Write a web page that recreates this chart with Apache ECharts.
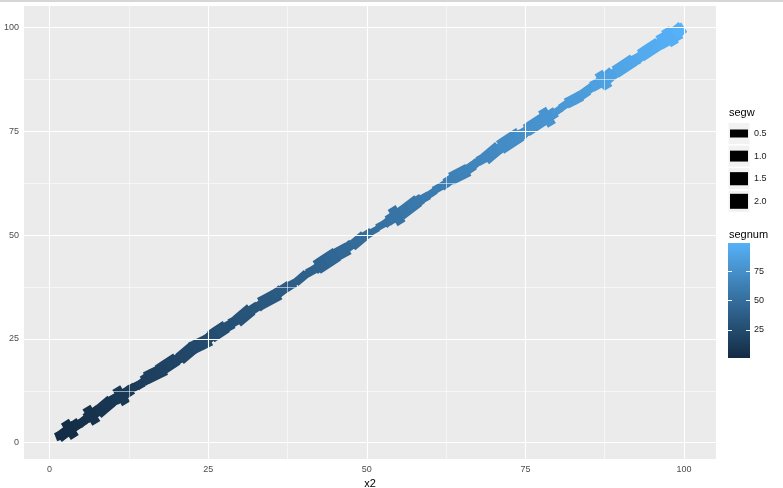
<!DOCTYPE html>
<html>
<head>
<meta charset="utf-8">
<script src="https://cdn.jsdelivr.net/npm/echarts@6/dist/echarts.min.js"></script>
<style>
  html, body { margin: 0; padding: 0; background: #fff; }
  #chart { width: 783px; height: 488px; }
</style>
</head>
<body>
<div id="chart"></div>
<script>
// path points, segment i goes from point i to point i+1
const xs = [
  1.6, 2.1, 3.3, 4.0, 5.2, 6.4, 7.1, 8.3, 9.0, 10.2,
  11.1, 12.3, 13.0, 14.2, 15.4, 16.1, 17.3, 18.0, 19.2, 20.1,
  21.3, 22.0, 23.2, 24.4, 25.1, 26.3, 27.0, 28.2, 29.1, 30.3,
  31.0, 32.2, 33.4, 34.1, 35.3, 36.0, 37.2, 38.1, 39.3, 40.0,
  41.2, 42.4, 43.1, 44.3, 45.0, 46.2, 47.1, 48.3, 49.0, 50.2,
  51.4, 52.1, 53.3, 54.0, 55.2, 56.1, 57.3, 58.0, 59.2, 60.4,
  61.1, 62.3, 63.0, 64.2, 65.1, 66.3, 67.0, 68.2, 69.4, 70.1,
  71.3, 72.0, 73.2, 74.1, 75.3, 76.0, 77.2, 78.4, 79.1, 80.3,
  81.0, 82.2, 83.1, 84.3, 85.0, 86.2, 87.4, 88.1, 89.3, 90.0,
  91.2, 92.1, 93.3, 94.0, 95.2, 96.4, 97.1, 98.3, 99.0, 99.3
];
const ys = [
  1.7, 2.0, 3.4, 4.1, 5.0, 6.5, 7.2, 8.2, 9.1, 10.3,
  11.0, 12.2, 13.1, 14.0, 15.5, 16.2, 17.1, 18.1, 19.3, 20.0,
  21.2, 22.1, 23.3, 24.2, 25.2, 26.4, 27.1, 28.1, 29.2, 30.2,
  31.1, 32.3, 33.3, 34.2, 35.2, 36.1, 37.3, 38.0, 39.2, 40.1,
  41.3, 42.3, 43.2, 44.4, 45.1, 46.1, 47.2, 48.2, 49.1, 50.3,
  51.3, 52.2, 53.2, 54.1, 55.3, 56.0, 57.4, 58.1, 59.1, 60.3,
  61.2, 62.2, 63.1, 64.3, 65.0, 66.2, 67.1, 68.3, 69.3, 70.2,
  71.2, 72.1, 73.3, 74.0, 75.2, 76.1, 77.3, 78.3, 79.0, 80.2,
  81.1, 82.3, 83.0, 84.2, 85.1, 86.3, 87.3, 88.2, 89.2, 90.1,
  91.3, 92.0, 93.2, 94.1, 95.3, 96.3, 97.2, 98.2, 99.1, 99.4
];
const segw = [
  0.6, 1.0, 1.0, 0.5, 0.6, 1.0, 0.8, 1.5, 1.0, 1.0,
  1.0, 0.5, 0.6, 0.5, 1.0, 1.5, 0.8, 1.5, 0.8, 0.9,
  1.5, 0.8, 1.5, 0.9, 0.8, 1.5, 0.9, 0.6, 0.8, 1.5,
  0.8, 0.6, 0.8, 1.5, 1.0, 0.8, 0.6, 0.3, 0.6, 0.4,
  0.6, 0.8, 2.0, 1.0, 1.5, 0.8, 0.6, 1.0, 0.6, 0.3,
  0.2, 0.4, 0.6, 1.0, 0.8, 1.5, 1.0, 0.6, 0.4, 0.3,
  0.5, 0.6, 0.8, 1.5, 0.8, 0.6, 0.5, 0.8, 1.5, 0.8,
  0.8, 2.0, 1.0, 0.8, 0.8, 1.5, 0.8, 1.0, 0.4, 0.3,
  0.5, 1.0, 0.8, 0.6, 0.6, 1.0, 1.5, 0.8, 0.8, 1.5,
  1.0, 0.8, 0.8, 1.5, 1.0, 0.8, 2.0, 1.5, 1.0
];
const segnum = [
  1, 2, 3, 4, 5, 6, 7, 8, 9, 10,
  11, 12, 13, 14, 15, 16, 17, 18, 19, 20,
  21, 22, 23, 24, 25, 26, 27, 28, 29, 30,
  31, 32, 33, 34, 35, 36, 37, 38, 39, 40,
  41, 42, 43, 44, 45, 46, 47, 48, 49, 50,
  51, 52, 53, 54, 55, 56, 57, 58, 59, 60,
  61, 62, 63, 64, 65, 66, 67, 68, 69, 70,
  71, 72, 73, 74, 75, 76, 77, 78, 79, 80,
  81, 82, 83, 84, 85, 86, 87, 88, 89, 90,
  91, 92, 93, 94, 95, 96, 97, 98, 99
];
// short cross segments lying across the path
const crossX1 = [2.8, 6.2, 10.9, 54.3, 78.0, 86.9, 97.4];
const crossY1 = [4.2, 7.6, 12.3, 55.7, 79.4, 88.3, 98.8];
const crossX2 = [3.6, 7.0, 11.7, 55.1, 78.8, 87.7, 98.2];
const crossY2 = [2.2, 5.6, 10.3, 53.7, 77.4, 86.3, 96.8];
const crossW = [0.7, 0.7, 0.7, 0.7, 0.7, 0.7, 0.7];
const crossNum = [3, 6, 11, 54, 78, 87, 97];

const majorTicks = [0, 25, 50, 75, 100];
const minorTicks = [12.5, 37.5, 62.5, 87.5];
const segwBreaks = [0.5, 1.0, 1.5, 2.0];
const segnumBreaks = [25, 50, 75];

const FONT = "Liberation Sans";

// size scale, segw -> line width in px
function sizePx(w) {
  const a = Math.sqrt(0.5), b = Math.sqrt(2);
  return Math.max(1, 8 + (Math.sqrt(w) - a) / (b - a) * 7);
}

const segData = segw.map((w, i) => [xs[i], ys[i], xs[i + 1], ys[i + 1], w, segnum[i]]);
crossW.forEach((w, i) => {
  segData.push([crossX1[i], crossY1[i], crossX2[i], crossY2[i], w, crossNum[i]]);
});

const myChart = echarts.init(document.getElementById("chart"));

const gridLines = [];
majorTicks.forEach((v) => {
  gridLines.push({ xAxis: v, lineStyle: { width: 1.1 } });
  gridLines.push({ yAxis: v, lineStyle: { width: 1.1 } });
});
minorTicks.forEach((v) => {
  gridLines.push({ xAxis: v, lineStyle: { width: 0.55 } });
  gridLines.push({ yAxis: v, lineStyle: { width: 0.55 } });
});

// segw legend keys
const keyGraphics = [];
segwBreaks.forEach((w, i) => {
  const cy = 133.5 + i * 22.6;
  keyGraphics.push({
    type: "rect",
    shape: { x: 728, y: cy - 11, width: 22, height: 22 },
    style: { fill: "#F2F2F2", stroke: "#fff", lineWidth: 1 },
  });
  const h = sizePx(w);
  keyGraphics.push({
    type: "rect",
    shape: { x: 730, y: cy - h / 2, width: 18, height: h },
    style: { fill: "#000" },
  });
  keyGraphics.push({
    type: "text",
    x: 754,
    y: cy,
    style: {
      text: w.toFixed(1),
      font: "9px " + FONT,
      fill: "#1A1A1A",
      textVerticalAlign: "middle",
    },
  });
});

let option = {
  animation: false,
  backgroundColor: "#fff",
  grid: [
    {
      left: 24,
      top: 6,
      width: 692,
      height: 453,
      containLabel: false,
      outerBoundsMode: "none",
      show: true,
      backgroundColor: "#EBEBEB",
      borderWidth: 0,
    },
    {
      left: 728,
      top: 243,
      width: 22,
      height: 115,
      containLabel: false,
      outerBoundsMode: "none",
      show: true,
      borderWidth: 0,
      backgroundColor: new echarts.graphic.LinearGradient(0, 0, 0, 1, [
        { offset: 0, color: "#56B1F7" },
        { offset: 1, color: "#132B43" },
      ]),
    },
  ],
  xAxis: [
    {
      type: "value",
      gridIndex: 0,
      min: -4.02,
      max: 105.04,
      name: "x2",
      nameLocation: "middle",
      nameGap: 18,
      nameTextStyle: { color: "#000", fontSize: 11, fontFamily: FONT },
      axisLine: { show: false },
      axisTick: {
        show: true,
        length: 3,
        lineStyle: { color: "#333" },
        customValues: majorTicks,
      },
      axisLabel: {
        color: "#4D4D4D",
        fontSize: 9,
        fontFamily: FONT,
        margin: 6,
        customValues: majorTicks,
      },
      splitLine: { show: false },
    },
    {
      type: "value",
      gridIndex: 1,
      show: false,
    },
  ],
  yAxis: [
    {
      type: "value",
      gridIndex: 0,
      min: -3.93,
      max: 105.2,
      name: "y2",
      nameLocation: "middle",
      nameGap: 13,
      nameRotate: 90,
      nameTextStyle: { color: "#000", fontSize: 11, fontFamily: FONT },
      axisLine: { show: false },
      axisTick: {
        show: true,
        length: 3,
        lineStyle: { color: "#333" },
        customValues: majorTicks,
      },
      axisLabel: {
        color: "#4D4D4D",
        fontSize: 9,
        fontFamily: FONT,
        margin: 5,
        customValues: majorTicks,
      },
      splitLine: { show: false },
    },
    {
      type: "value",
      gridIndex: 1,
      min: 1,
      max: 99,
      position: "left",
      axisLine: { show: false },
      axisTick: {
        show: true,
        inside: true,
        length: 4,
        lineStyle: { color: "#fff" },
        customValues: segnumBreaks,
      },
      axisLabel: { show: false },
      splitLine: { show: false },
    },
    {
      type: "value",
      gridIndex: 1,
      min: 1,
      max: 99,
      position: "right",
      axisLine: { show: false },
      axisTick: {
        show: true,
        inside: true,
        length: 4,
        lineStyle: { color: "#fff" },
        customValues: segnumBreaks,
      },
      axisLabel: {
        color: "#1A1A1A",
        fontSize: 9,
        fontFamily: FONT,
        margin: 4,
        customValues: segnumBreaks,
      },
      splitLine: { show: false },
    },
  ],
  visualMap: {
    show: false,
    type: "continuous",
    seriesIndex: 1,
    dimension: 5,
    min: 1,
    max: 99,
    inRange: { color: ["#132B43", "#56B1F7"] },
  },
  graphic: [
    {
      type: "rect",
      shape: { x: 0, y: 0, width: 783, height: 2 },
      style: { fill: "#D6D6D6" },
    },
    {
      type: "text",
      x: 729,
      y: 113,
      style: {
        text: "segw",
        font: "11px " + FONT,
        fill: "#000",
        textVerticalAlign: "middle",
      },
    },
    {
      type: "text",
      x: 729,
      y: 235,
      style: {
        text: "segnum",
        font: "11px " + FONT,
        fill: "#000",
        textVerticalAlign: "middle",
      },
    },
  ].concat(keyGraphics),
  series: [
    {
      type: "line",
      xAxisIndex: 0,
      yAxisIndex: 0,
      data: [],
      z: 1,
      silent: true,
      markLine: {
        silent: true,
        symbol: ["none", "none"],
        label: { show: false },
        lineStyle: { color: "#fff", type: "solid" },
        data: gridLines,
      },
    },
    {
      type: "custom",
      xAxisIndex: 0,
      yAxisIndex: 0,
      z: 2,
      clip: true,
      encode: { x: [0, 2], y: [1, 3] },
      data: segData,
      renderItem: function (params, api) {
        const p1 = api.coord([api.value(0), api.value(1)]);
        const p2 = api.coord([api.value(2), api.value(3)]);
        return {
          type: "line",
          shape: { x1: p1[0], y1: p1[1], x2: p2[0], y2: p2[1] },
          style: {
            stroke: api.visual("color"),
            lineWidth: sizePx(api.value(4)),
            lineCap: "square",
          },
        };
      },
    },
  ],
};

myChart.setOption(option);
</script>
</body>
</html>
